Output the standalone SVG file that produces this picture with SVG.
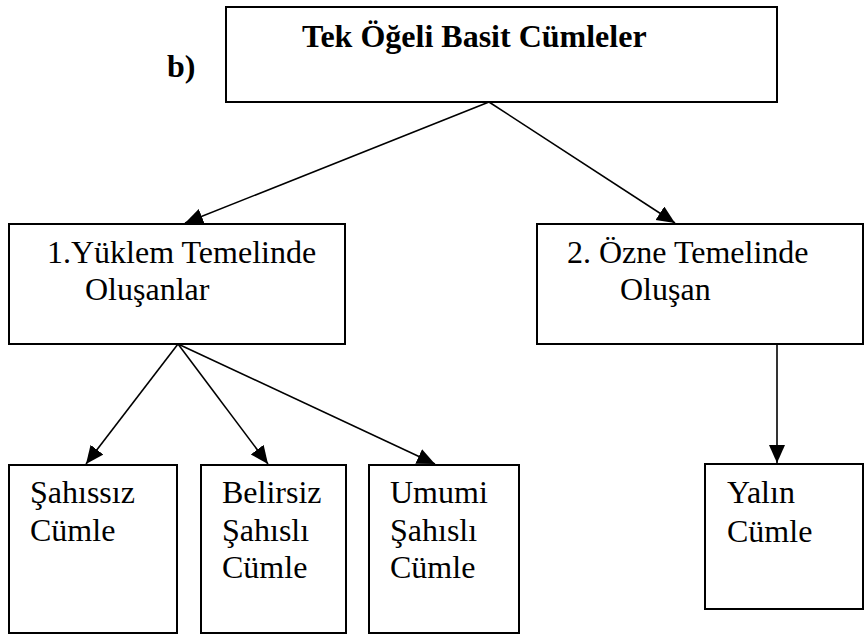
<svg xmlns="http://www.w3.org/2000/svg" width="865" height="635" viewBox="0 0 865 635">
<style>
.box{fill:#fff;stroke:#000;stroke-width:2}
.t{font-family:"Liberation Serif","Times New Roman",serif;font-size:32px;fill:#000}
.b{font-weight:bold}
.c{stroke:#000;stroke-width:1.6;fill:none;marker-end:url(#ah)}
</style>
<defs>
<marker id="ah" markerUnits="userSpaceOnUse" markerWidth="20" markerHeight="18" refX="18" refY="8" orient="auto">
<path d="M0,0 L18,8 L0,16 Z" fill="#000"/>
</marker>
</defs>
<rect width="865" height="635" fill="#fff"/>
<text class="t b" x="167" y="77">b)</text>
<g id="root">
<rect class="box" x="226" y="7" width="551" height="95"/>
<text class="t b" x="302" y="47">Tek Öğeli Basit Cümleler</text>
</g>
<g id="yuklem">
<rect class="box" x="9" y="224" width="336" height="120"/>
<text class="t" x="47" y="263">1.Yüklem Temelinde</text>
<text class="t" x="85" y="300">Oluşanlar</text>
</g>
<g id="ozne">
<rect class="box" x="537" y="224" width="326" height="120"/>
<text class="t" x="567" y="263">2. Özne Temelinde</text>
<text class="t" x="620" y="300">Oluşan</text>
</g>
<g id="sahissiz">
<rect class="box" x="9" y="465" width="168" height="168"/>
<text class="t" x="30" y="503">Şahıssız</text>
<text class="t" x="30" y="541">Cümle</text>
</g>
<g id="belirsiz">
<rect class="box" x="201" y="465" width="145" height="168"/>
<text class="t" x="222" y="503">Belirsiz</text>
<text class="t" x="222" y="541">Şahıslı</text>
<text class="t" x="222" y="578">Cümle</text>
</g>
<g id="umumi">
<rect class="box" x="369" y="465" width="150" height="168"/>
<text class="t" x="390" y="503">Umumi</text>
<text class="t" x="390" y="541">Şahıslı</text>
<text class="t" x="390" y="578">Cümle</text>
</g>
<g id="yalin">
<rect class="box" x="705" y="464" width="158" height="145"/>
<text class="t" x="727" y="503">Yalın</text>
<text class="t" x="727" y="542">Cümle</text>
</g>
<g id="connectors">
<line class="c" x1="489" y1="102" x2="185" y2="223"/>
<line class="c" x1="489" y1="102" x2="675" y2="223"/>
<line class="c" x1="178" y1="344" x2="86" y2="464"/>
<line class="c" x1="178" y1="344" x2="268" y2="464"/>
<line class="c" x1="178" y1="344" x2="435" y2="464"/>
<line class="c" x1="777" y1="344" x2="777" y2="463"/>
</g>
</svg>
